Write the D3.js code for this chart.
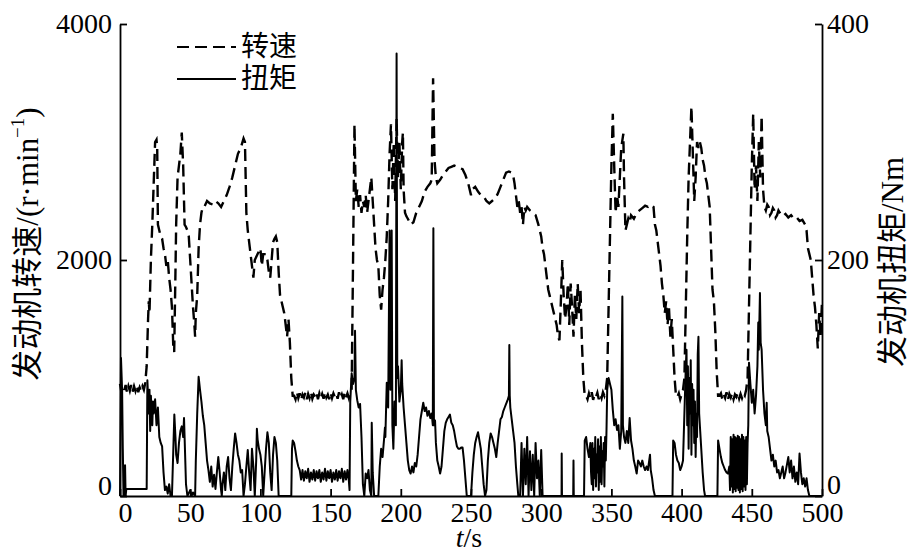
<!DOCTYPE html>
<html><head><meta charset="utf-8">
<script src="https://cdn.jsdelivr.net/npm/d3@7"></script>
<style>
body{margin:0;background:#fff;}
svg{display:block;}
.num{font-family:"Liberation Serif","Times New Roman",serif;font-size:28px;fill:#000;}
.lab{font-family:"Liberation Serif","Noto Sans CJK SC",serif;font-size:28px;fill:#000;}
.ttl{font-family:"Liberation Serif","Noto Sans CJK SC",serif;font-size:31px;fill:#000;}
</style></head>
<body><svg id="c" width="913" height="553"></svg>
<script>
// ---- data ----
const timeTicks = [0,50,100,150,200,250,300,350,400,450,500];
const speedTicks = [0,2000,4000];
const torqueTicks = [0,200,400];
const legendLabels = ["转速","扭矩"];

// engine speed (rpm), [time s, value]
const speedA = [[0,950],[1,880],[2,920],[3,890],[4,940],[5,880],[6,930],[7,890],[8,940],[9,885],[10,930],[11,890],[12,935],[13,880],[14,920],[15,890],[16,930],[17,900],[18,960],
[19,1100],[20,1500],[20.5,1650],[21,1550],[22,2000],[23,2300],[24,2650],[25,3000],[26,3020],[26.5,2950],[27,2300],[28,2250],[29,2200],[30,2180],[31,2100],[32,2050],[33,1950],[34,2000],[35,1850],[36,1750],[37,1600],[38,1250],[38.6,1220],[39.5,1900],[40,2300],[41,2700],[42,2800],[43,2900],[44,3080],[45,2800],[46,2300],[47,2280],[48,2250],[49,2200],[50,2000],[51,1800],[52,1600],[53,1450],[53.5,1350],[54,1550],[55,1700],[56,2100],[57,2300],[58,2400],[59,2450],[60,2450],[62,2500],[64,2480],[66,2470],[68,2500],[70,2480],[72,2450],[74,2500],[76,2550],[78,2620],[80,2700],[82,2800],[84,2900],[86,2950],[88,3030],[89,3000],[90,2400],[91,2250],[92,2150],[93,2050],[94,1950],[95,1850],[96,2000],[98,2050],[100,2100],[101,1950],[102,2050],[104,2050],[105,2000],[106,1900],[107,1850],[108,2000],[109,2150],[110,2180],[111,2200],[112,2150],[113,1900],[114,1700],[115,1650],[116,1600],[117,1550],[118,1450],[119,1350],[120,1500],[121,1300],[122,1000],[123,850]];
const speedIdle1 = [850,820,880,830,870,815,860,835,875,820,865,830,880,825,860,840,875,820,870,830,865,825,880,835,860,820,875,830,870,840,865,825,880,830,860,820,875,835,870,830,880]; // t=124..164
const speedB = [[165,900],[166,2000],[167,3150],[168,2500],[169,2600],[170,2450],[171,2550],[172,2400],[173,2500],[174,2450],[175,2550],[176,2400],[177,2500],[178,2600],[179,2700],[180,2500],[181,2300],[182,2100],[183,2000],[184,1950],[185,1700],[186,1580],[187,1750],[188,1850],[189,2000],[190,2200],[191,2500],[192,2900],[193,3150],[194,2600],[195,3000],[196,2500],[197,3200],[198,2700],[199,3000],[200,2600],[201,3000],[201.5,3080],[202,2600],[203,2400],[204,2370],[205,2350],[207,2300],[209,2320],[211,2400],[213,2450],[215,2500],[217,2580],[219,2620],[221,2650],[222,2680],[223,3540],[224,2850],[225,2700],[226,2650],[228,2680],[230,2720],[232,2750],[234,2780],[236,2790],[238,2800],[240,2790],[242,2780],[244,2770],[246,2720],[248,2650],[250,2550],[251,2600],[253,2620],[255,2580],[257,2550],[259,2540],[261,2500],[263,2480],[265,2500],[267,2520],[269,2560],[271,2620],[273,2680],[275,2740],[277,2750],[279,2740],[280,2720],[281,2650],[282,2550],[283,2450],[284,2500],[285,2400],[286,2450],[287,2300],[288,2450],[289,2420],[290,2450],[292,2420],[294,2400],[296,2380],[298,2300],[300,2200],[301,2100],[302,2050],[303,1950],[304,1850],[305,1750],[306,1700],[307,1650],[308,1600],[309,1550],[310,1500],[311,1450],[312,1350],[313,1320],[314,1650],[315,2000],[316,1700],[317,1500],[318,1600],[319,1800],[320,1450],[321,1800],[322,1600],[323,1350],[324,1700],[325,1500],[326,1800],[327,1550],[328,1750],[329,1300],[330,1000],[331,850]];
const speedIdle2 = [850,820,870,830,880,815,860,840,875,820,865,830,880,850,900]; // t=332..346
const speedC = [[347,1000],[348,1600],[349,2200],[350,2800],[351,3240],[352,2800],[353,2400],[354,2550],[355,2450],[356,2700],[357,2950],[358.5,3070],[359,2700],[360,2250],[361,2300],[362,2350],[363,2320],[364,2380],[366,2350],[368,2400],[370,2420],[372,2440],[374,2460],[376,2450],[378,2470],[380,2450],[381,2300],[382,2250],[383,2150],[384,2050],[385,1950],[386,1800],[387,1700],[388,1550],[389,1650],[390,1450],[391,1600],[392,1350],[393,1500],[394,1250],[395,1000],[396,850]];
const speedIdle3 = [840,870,820,860,900]; // t=397..401
const speedD = [[402,1000],[403,1600],[404,2200],[405,2700],[406,3000],[407,3300],[408,2900],[409,2500],[410,2700],[411,3000],[412,2950],[413,3000],[414,2950],[415,2850],[416,2800],[417,2700],[418,2650],[419,2550],[420,2450],[421,2100],[422,1750],[423,1650],[424,1400],[425,1050],[426,850]];
const speedIdle4 = [850,870,820,860,830,880,815,865,835,870,820,860,840,875,825,865,830,870,850,900]; // t=427..446
const speedE = [[447,1000],[448,1600],[449,2200],[450,2800],[451,3240],[452,2600],[453,2800],[454,2500],[455,3000],[456,2700],[457,3220],[458,2600],[459,2450],[460,2420],[461,2470],[462,2450],[463,2380],[464,2400],[465,2440],[466,2420],[467,2360],[468,2380],[469,2420],[470,2400],[472,2370],[474,2390],[476,2360],[478,2380],[480,2350],[482,2360],[484,2330],[486,2340],[488,2300],[489,2250],[490,2100],[491,2050],[492,2000],[493,1850],[494,1700],[495,1600],[496,1450],[497,1250],[498,1550],[499,1350],[500,1650]];

// engine torque (Nm), [time s, value]
const torqueA = [[0,0],[0.7,117],[1.5,90],[2,40],[2.5,0],[3.3,0],[3.6,26],[4,0],[4.5,6],[19,6],[19.5,98],[20.5,70],[21,90],[21.5,55],[22,85],[23,60],[23.5,80],[24,70],[25,82],[26,60],[27,75],[28,50],[29,45],[30,42],[31,20],[32,5],[33,8],[34,2],[35,10],[36,0],[37,0],[38.7,69],[39.5,50],[40,35],[41,28],[42,45],[43,55],[44,59],[45,50],[45.6,66],[46.5,30],[47,10],[48,0],[50,5],[51,0],[52,3],[53.5,0],[54,30],[55,70],[56,101],[57,90],[58,80],[59,68],[60,60],[61,45],[62,30],[63,22],[64,12],[65,25],[66,8],[67,18],[68,6],[69,20],[70,33],[71,20],[72,5],[72.5,0],[73,10],[74,20],[75,5],[76,25],[77,33],[78,15],[79,5],[80,25],[81,40],[82,53],[83,45],[84,35],[85,30],[86,20],[87,22],[88,0],[89,10],[90,25],[91,39],[92,20],[93,5],[94,40],[95,25],[96,0],[97,30],[97.5,57],[98,48],[99,40],[100,35],[101,25],[102,0],[103,20],[104,40],[105,54],[106,45],[107,20],[108,5],[109,35],[110,50],[111,45],[112,30],[113,0],[122,0],[122.5,40],[123,47],[124,45],[125,38],[126,30],[127,25],[128,22]];
const torqueBand1 = [14,22,13,21,15,23,12,20,14,22,13,21,15,22,12,20,14,23,13,21,15,22,12,20,14,22,13,21,15,23,12,21,14,22,13]; // t=129..163
const torqueB = [[163.5,5],[164,80],[165,104],[166,95],[167,100],[167.4,140],[168,90],[169,81],[170,75],[171,78],[172,50],[173,10],[174,0],[175,19],[176,15],[177,22],[178,5],[179,0],[179.3,62],[180,20],[181,0],[184,0],[185,25],[186,40],[187,33],[188,47],[188.7,58],[189,50],[190,96],[191,75],[192,225],[192.6,90],[193.5,225],[194,60],[194.7,40],[195.5,80],[196.5,60],[197,375],[197.5,100],[198,110],[199,80],[200,90],[200.6,115],[201,95],[202,75],[203,60],[204,45],[205,30],[206,22],[207,19],[208,25],[209,20],[210,28],[211,25],[212,35],[213,50],[214,65],[215,72],[216,79],[217,72],[218,75],[219,68],[220,72],[221,66],[222,70],[222.8,60],[223.2,227],[223.6,60],[224.4,64],[225,45],[226,30],[227,25],[228,19],[229,25],[230,40],[231,55],[232,62],[233,65],[234,67],[235,69],[236,62],[237,60],[238,55],[239,48],[240,42],[241,40],[242,40],[243,41],[244,41],[245,30],[246,15],[247,0],[250,0],[251,20],[252,35],[253,45],[254,50],[255,54],[256,47],[257,40],[258,25],[259,10],[260,0],[261,5],[262,30],[263,45],[264,53],[265,50],[266,45],[267,40],[268,33],[269,45],[270,55],[271,65],[272,67],[273,72],[274,75],[275,78],[276,81],[277,85],[277.3,128],[277.6,85],[278,75],[279,65],[280,55],[281,45],[282,25],[283,10],[283.7,0],[285,0],[286,45],[287,0],[288,40],[289,10],[290,50],[291,0],[292,38],[293,5],[294,35],[295,0],[296,45],[297,15],[298,30],[299,0],[300,39],[301,0],[314.5,0],[314.6,36],[314.8,0],[322.8,0],[323,30],[323.2,0],[330.5,0],[331,47],[332,50],[333,40],[334,33],[335,45],[335.5,20]];
const torqueDense1 = [10,45,5,40,15,50,8,35,20,48,5,42,12,50,10,38,25,45,8,50,30,55]; // t=336..346.5
const torqueC = [[347,90],[348,100],[349,95],[350,90],[351,73],[352,60],[353,65],[354,56],[355,60],[356,40],[357,55],[357.8,169],[358.2,60],[359,50],[360,45],[361,55],[362,45],[363,66],[364,47],[365,40],[366,30],[367,25],[368,19],[369,30],[370,28],[371,25],[372,30],[373,25],[374,22],[375,25],[376,22],[377.5,35],[378,22],[379,15],[380,5],[381,0],[393.5,0],[394,47],[395,45],[396,35],[397,30],[398,28],[399,22],[400,25],[401,30],[402,70],[403,110]];
const torqueDense2 = [124,60,110,40,100,70,115,35,95,60,90,45,80,33,70,50,120]; // t=403.5..411.5
const torqueD = [[412,135],[412.5,70],[413,60],[414,40],[415,20],[416,5],[416.7,0],[425.5,0],[426,47],[427,40],[428,33],[429,28],[430,25],[431,22],[432,20],[433,19],[434,25]];
const torqueDense3 = [5,50,8,48,3,52,6,50,4,49,7,51,5,50,3,48,6,52,4,50,8,47,5,50,10,45,60]; // t=434.5..447.5
const torqueE = [[448,113],[449,95],[450,79],[451,90],[452,70],[453,85],[454,110],[454.6,147],[455,124],[455.8,172],[456.3,130],[457,124],[458,90],[459,70],[460,60],[460.6,79],[461,55],[462,50],[463,40],[464,30],[465,35],[466,25],[467,30],[468,20],[469,22],[470,15],[471,20],[472,25],[473,15],[474,20],[476,33],[477,20],[478,30],[479,15],[480,25],[481,12],[482,20],[483,10],[484,36],[485,20],[486,10],[487,15],[488,8],[489,15],[490,5],[491,0],[500,0]];

// ---- build series (regularly sampled stretches get their times here) ----
const sampled = (t0, dt, vals) => vals.map((v, i) => [t0 + i * dt, v]);
const speed = [].concat(speedA, sampled(124,1,speedIdle1), speedB, sampled(332,1,speedIdle2), speedC,
  sampled(397,1,speedIdle3), speedD, sampled(427,1,speedIdle4), speedE);
const torque = [].concat(torqueA, sampled(129,1,torqueBand1), torqueB, sampled(336,0.5,torqueDense1), torqueC,
  sampled(403.5,0.5,torqueDense2), torqueD, sampled(434.5,0.5,torqueDense3), torqueE);

// ---- chart ----
const svg = d3.select("#c");
const x = d3.scaleLinear().domain([0,500]).range([120,822]);
const yL = d3.scaleLinear().domain([0,4000]).range([496,24]);
const yR = d3.scaleLinear().domain([0,400]).range([496,24]);

const lineS = d3.line().x(d=>x(d[0])).y(d=>yL(d[1]));
const lineT = d3.line().x(d=>x(d[0])).y(d=>yR(d[1]));

svg.append("path").datum(torque).attr("d", lineT)
  .attr("fill","none").attr("stroke","#000").attr("stroke-width",2).attr("stroke-linejoin","round");
svg.append("path").datum(speed).attr("d", lineS)
  .attr("fill","none").attr("stroke","#000").attr("stroke-width",2.4).attr("stroke-dasharray","12,6");

const fmt = d3.format("d");
function styleAxis(g){
  g.selectAll(".domain").attr("stroke","#000").attr("stroke-width",1.8);
  g.selectAll(".tick line").attr("stroke","#000").attr("stroke-width",1.8);
  g.selectAll("text").attr("class","num").attr("font-size",null).attr("font-family",null);
}
const gx = svg.append("g").attr("transform","translate(0,496)")
  .call(d3.axisBottom(x).tickValues(timeTicks).tickFormat(fmt).tickSize(-7).tickSizeOuter(0).tickPadding(6));
styleAxis(gx);
gx.selectAll(".tick text").filter(d=>d===0).attr("dx",5);

const gl = svg.append("g").attr("transform","translate(120,0)")
  .call(d3.axisLeft(yL).tickValues(speedTicks).tickFormat(fmt).tickSize(-7).tickSizeOuter(0).tickPadding(8));
styleAxis(gl);
gl.selectAll(".tick text").filter(d=>d===0).attr("dy","-0.05em");

const gr = svg.append("g").attr("transform","translate(822,0)")
  .call(d3.axisRight(yR).tickValues(torqueTicks).tickFormat(fmt).tickSize(-7).tickSizeOuter(0).tickPadding(5));
styleAxis(gr);
gr.selectAll(".tick text").filter(d=>d===0).attr("dy","-0.1em");

// legend
svg.append("line").attr("x1",177).attr("x2",236).attr("y1",47).attr("y2",47)
  .attr("stroke","#000").attr("stroke-width",2.2).attr("stroke-dasharray","12,6");
svg.append("line").attr("x1",177).attr("x2",236).attr("y1",79).attr("y2",79)
  .attr("stroke","#000").attr("stroke-width",2.2);
svg.append("text").attr("class","lab").attr("x",241).attr("y",56).text(legendLabels[0]);
svg.append("text").attr("class","lab").attr("x",241).attr("y",88).text(legendLabels[1]);

// axis titles
const tl = svg.append("text").attr("class","ttl").attr("text-anchor","middle")
  .attr("transform","translate(38,244) rotate(-90)");
tl.append("tspan").text("发动机转速/(r·min");
tl.append("tspan").attr("font-size","19px").attr("dy","-0.75em").text("−1");
tl.append("tspan").attr("dy","0.46em").text(")");

svg.append("text").attr("class","ttl").attr("text-anchor","middle")
  .attr("transform","translate(903,262) rotate(-90)").text("发动机扭矩/Nm");

const tx = svg.append("text").attr("class","lab").attr("text-anchor","middle").attr("x",469).attr("y",547);
tx.append("tspan").attr("font-style","italic").text("t");
tx.append("tspan").text("/s");
</script></body></html>
